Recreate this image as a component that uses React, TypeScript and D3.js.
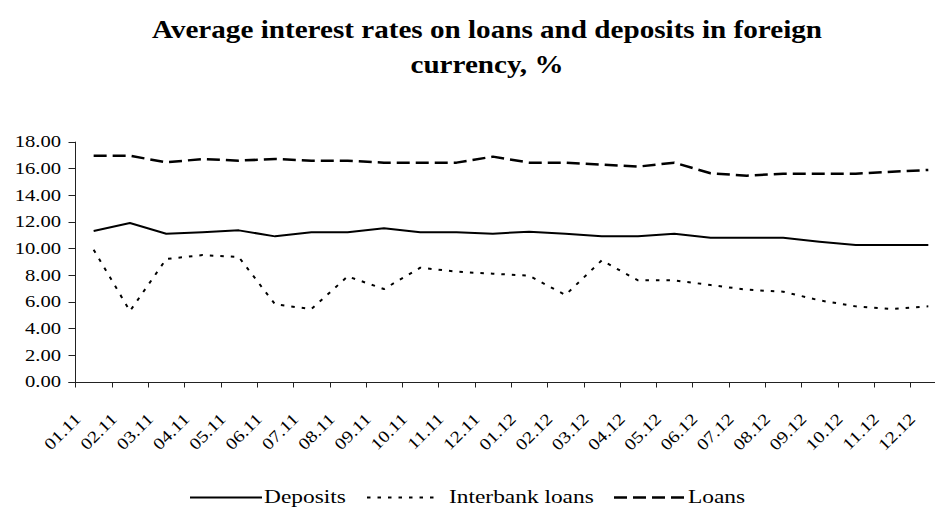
import React from "react";
import * as d3 from "d3";

const categories = [
  "01.11", "02.11", "03.11", "04.11", "05.11", "06.11", "07.11", "08.11", "09.11", "10.11", "11.11", "12.11",
  "01.12", "02.12", "03.12", "04.12", "05.12", "06.12", "07.12", "08.12", "09.12", "10.12", "11.12", "12.12",
];
const deposits = [11.3, 11.9, 11.1, 11.2, 11.35, 10.9, 11.2, 11.2, 11.5, 11.2, 11.2, 11.1, 11.25, 11.1, 10.9, 10.9, 11.1, 10.8, 10.8, 10.8, 10.5, 10.25, 10.25, 10.25];
const interbank = [9.9, 5.3, 9.2, 9.5, 9.35, 5.8, 5.45, 7.9, 6.95, 8.55, 8.25, 8.1, 7.95, 6.5, 9.1, 7.6, 7.6, 7.25, 6.9, 6.75, 6.1, 5.65, 5.45, 5.65];
const loans = [16.95, 16.95, 16.45, 16.7, 16.58, 16.7, 16.58, 16.58, 16.43, 16.43, 16.43, 16.88, 16.43, 16.43, 16.28, 16.13, 16.43, 15.63, 15.45, 15.6, 15.6, 15.6, 15.75, 15.88];
const yTicks = [0, 2, 4, 6, 8, 10, 12, 14, 16, 18];
const seriesNames = ["Deposits", "Interbank loans", "Loans"];
const titleLines = ["Average interest rates on loans and deposits in foreign", "currency, %"];

const W = 935;
const H = 509;
const FONT = "'Liberation Serif', 'Times New Roman', serif";

export default function App() {
  const x0 = 75.5;
  const bw = 36.29;
  const x = d3.scaleBand<string>().domain(categories).range([x0, x0 + bw * categories.length]).paddingInner(0).paddingOuter(0);
  const y = d3.scaleLinear().domain([0, 18]).range([381.7, 141.7]);
  const cx = (i: number) => (x(categories[i]) as number) + x.bandwidth() / 2;
  const line = d3.line<number>().x((_, i) => cx(i)).y((v) => y(v));
  const fmt = d3.format(".2f");

  const styles = [
    { data: deposits, dash: undefined as string | undefined, width: 2 },
    { data: interbank, dash: "3.5,7", width: 2 },
    { data: loans, dash: "13,6", width: 2.5 },
  ];

  const legend = [
    { lx1: 190, lx2: 262, tx: 264 },
    { lx1: 367, lx2: 438, tx: 449 },
    { lx1: 614, lx2: 686, tx: 688 },
  ];

  const axisY = Math.round(y(0)) + 0.5;

  return (
    <svg width={W} height={H} style={{ position: "absolute", left: 0, top: 0, background: "#fff" }}>
      <rect width={W} height={H} fill="#fff" />
      {/* title */}
      <text x={487} y={38} textAnchor="middle" fontFamily={FONT} fontWeight="bold" fontSize={26}
        textLength={670} lengthAdjust="spacingAndGlyphs">{titleLines[0]}</text>
      <text x={487} y={73} textAnchor="middle" fontFamily={FONT} fontWeight="bold" fontSize={26}
        textLength={153} lengthAdjust="spacingAndGlyphs">{titleLines[1]}</text>

      {/* y axis */}
      <line x1={x0} x2={x0} y1={y(18)} y2={axisY + 5} stroke="#222" strokeWidth={1} />
      {yTicks.map((t) => (
        <g key={t}>
          <line x1={x0 - 7} x2={x0} y1={Math.round(y(t)) + 0.5} y2={Math.round(y(t)) + 0.5} stroke="#222" strokeWidth={1} />
          <text transform={`translate(${61},${y(t) + 5.5}) scale(1.25,1)`} textAnchor="end" fontFamily={FONT} fontSize={16.5} fill="#000">
            {fmt(t)}
          </text>
        </g>
      ))}

      {/* x axis */}
      <line x1={x0 - 7} x2={x0 + bw * categories.length} y1={axisY} y2={axisY} stroke="#222" strokeWidth={1} />
      {categories.map((c, i) => (
        <g key={c}>
          {i > 0 && (
            <line x1={Math.round(x(c) as number) + 0.5} x2={Math.round(x(c) as number) + 0.5} y1={axisY} y2={axisY + 5} stroke="#222" strokeWidth={1} />
          )}
          <text transform={`translate(${cx(i) - 12},${420}) rotate(-45) scale(1.2,1)`} textAnchor="end" fontFamily={FONT} fontSize={16.5} fill="#000">
            {c}
          </text>
        </g>
      ))}

      {/* series */}
      {styles.map((s, k) => (
        <path key={k} d={line(s.data) || ""} fill="none" stroke="#000" strokeWidth={s.width}
          strokeDasharray={s.dash} strokeLinejoin="round" />
      ))}

      {/* legend */}
      {legend.map((l, k) => (
        <g key={k}>
          <line x1={l.lx1} x2={l.lx2} y1={497.5} y2={497.5} stroke="#000" strokeWidth={styles[k].width}
            strokeDasharray={styles[k].dash} />
          <text transform={`translate(${l.tx},${503}) scale(1.3,1)`} fontFamily={FONT} fontSize={18} fill="#000">
            {seriesNames[k]}
          </text>
        </g>
      ))}
    </svg>
  );
}
